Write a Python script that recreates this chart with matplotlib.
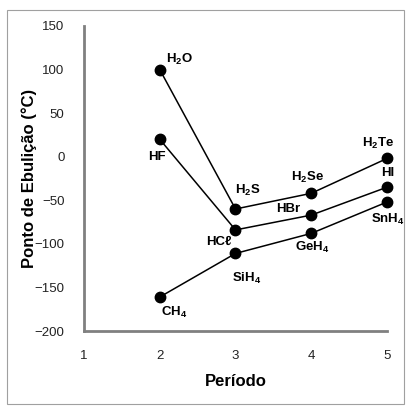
import matplotlib.pyplot as plt
from matplotlib.patches import Rectangle

# --- data: boiling points (°C) by period ---
periods = [2, 3, 4, 5]
group14 = [-161, -111, -88, -52]
group16 = [100, -60, -42, -2]
group17 = [20, -84, -67, -35]

labels14 = [r"CH$_4$", r"SiH$_4$", r"GeH$_4$", r"SnH$_4$"]
labels16 = [r"H$_2$O", r"H$_2$S", r"H$_2$Se", r"H$_2$Te"]
labels17 = ["HF", "HCℓ", "HBr", "HI"]

# label offsets in pixels (dx, dy)
offs14 = [(14, -15), (11, -25), (1, -14), (1, -17)]
offs16 = [(20, 10), (12, 19), (-4, 16), (-9, 15)]
offs17 = [(-3, -18), (-17, -12), (-23, 6), (1, 14)]

FONTS = ["Liberation Sans", "DejaVu Sans"]
plt.rcParams["font.family"] = FONTS
plt.rcParams["mathtext.fontset"] = "custom"
plt.rcParams["mathtext.rm"] = "Liberation Sans:bold"
plt.rcParams["mathtext.it"] = "Liberation Sans:bold"
plt.rcParams["mathtext.bf"] = "Liberation Sans:bold"

fig = plt.figure(figsize=(4.10, 4.13), dpi=100)
fig.patches.append(Rectangle((7 / 410, 9 / 413), 397 / 410, 394 / 413,
                             transform=fig.transFigure, fill=False,
                             edgecolor="#a0a0a0", linewidth=0.8))
ax = fig.add_axes([84 / 410, 1 - 331 / 413, 303 / 410, 305 / 413])

for ys, labs, offs in [(group16, labels16, offs16),
                       (group17, labels17, offs17),
                       (group14, labels14, offs14)]:
    ax.plot(periods, ys, color="black", linewidth=1.1, marker="o",
            markersize=7.5, clip_on=False)
    for x, y, lab, (dx, dy) in zip(periods, ys, labs, offs):
        ax.annotate(lab, (x, y), xytext=(dx, dy), textcoords="offset pixels",
                    ha="center", va="center", fontsize=9.5, fontweight="bold")

ax.set_xlim(1, 5)
ax.set_ylim(-200, 150)
ax.set_xticks([1, 2, 3, 4, 5])
ax.set_yticks(range(-200, 151, 50))

for side in ["top", "right"]:
    ax.spines[side].set_visible(False)
for side in ["left", "bottom"]:
    ax.spines[side].set_color("#808080")
    ax.spines[side].set_linewidth(2)
ax.tick_params(length=0, labelsize=9.5, colors="#222222")
ax.tick_params(axis="y", pad=14)
ax.tick_params(axis="x", pad=14)

ax.set_xlabel("Período", fontsize=12, fontweight="bold", labelpad=8)
ax.set_ylabel("Ponto de Ebulição (°C)", fontsize=12, fontweight="bold", labelpad=-2)

plt.savefig("out.png", dpi=100)
